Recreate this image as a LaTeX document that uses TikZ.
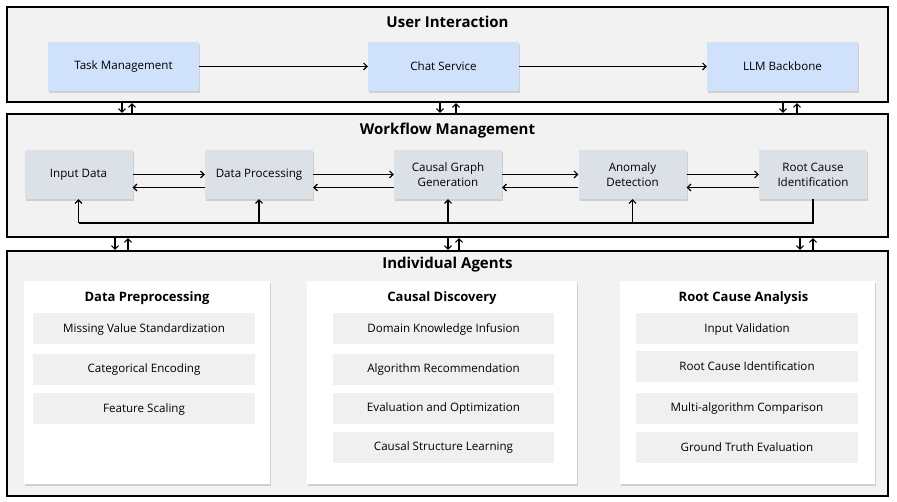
\documentclass[tikz,border=0pt]{standalone}
\usepackage{fontspec}
\setmainfont{Open Sans}
\usetikzlibrary{shadows,arrows.meta}
\definecolor{layerbg}{HTML}{F2F2F2}
\definecolor{uiblue}{HTML}{D0E2FB}
\definecolor{wfgray}{HTML}{DCE1E8}
\definecolor{itemgray}{HTML}{F0F0F0}
\begin{document}
\begin{tikzpicture}[x=1pt,y=-1pt,
    font=\fontsize{11.6}{15}\selectfont,
    >={Straight Barb[length=3.5pt,width=7pt]},
    soft/.style={drop shadow={shadow xshift=1pt,shadow yshift=-2pt,opacity=0.3}},
    layer/.style={draw,line width=2.2pt,fill=layerbg,minimum width=881pt},
    layertitle/.style={anchor=base,font=\fontsize{15}{19}\selectfont\bfseries},
    uibox/.style={soft,fill=uiblue,minimum width=151pt,minimum height=49pt},
    wfbox/.style={soft,fill=wfgray,minimum width=108pt,minimum height=49pt,align=center},
    panel/.style={soft,fill=white,minimum height=203pt},
    paneltitle/.style={anchor=base,font=\fontsize{13}{17}\selectfont\bfseries},
    item/.style={fill=itemgray,minimum width=222pt,minimum height=31pt},
    link/.style={->,line width=1.1pt}]
  \useasboundingbox (0,0) rectangle (897,502);
  % layers
  \node[layer,minimum height=95pt] (ui) at (447.5,54.5) {};
  \node[layertitle] (uititle) at (447.5,28) {User Interaction};
  \node[layer,minimum height=123pt] (wm) at (447.5,175.5) {};
  \node[layertitle] (wmtitle) at (447.5,135) {Workflow Management};
  \node[layer,minimum height=245pt] (ia) at (447.5,373.5) {};
  \node[layertitle] (iatitle) at (447.5,269) {Individual Agents};
  % user interaction
  \node[uibox] (task) at (123.5,66.5) {Task Management};
  \node[uibox] (chat) at (443.5,66.5) {Chat Service};
  \node[uibox] (llm) at (782.5,66.5) {LLM Backbone};
  \draw[link] (task) -- (chat);
  \draw[link] (chat) -- (llm);
  \foreach \x in {122,440,783} \draw[link] (ui.south -| \x,0) -- (wm.north -| \x,0);
  \foreach \x in {132,456,797} \draw[link] (wm.north -| \x,0) -- (ui.south -| \x,0);
  % workflow management
  \node[wfbox] (inp) at (78.5,174.5) {Input Data};
  \node[wfbox] (proc) at (259,174.5) {Data Processing};
  \node[wfbox] (cgg) at (448,174.5) {Causal Graph\\Generation};
  \node[wfbox] (anom) at (632.5,174.5) {Anomaly\\Detection};
  \node[wfbox] (rci) at (813,174.5) {Root Cause\\Identification};
  \foreach \a/\b in {inp/proc,proc/cgg,cgg/anom,anom/rci} {
    \draw[link] (\a) -- (\b);
    \draw[link] ([yshift=-13pt]\b.west) -- ([yshift=-13pt]\a.east);
  }
  \coordinate (bus) at (0,223);
  \draw[line width=1.1pt] (rci.south) -- (rci.south |- bus) -- (inp.south |- bus);
  \foreach \n in {inp,proc,cgg,anom} \draw[link] (\n.south |- bus) -- (\n.south);
  \foreach \x in {115,448,800} \draw[link] (wm.south -| \x,0) -- (ia.north -| \x,0);
  \foreach \x in {128,459,813} \draw[link] (ia.north -| \x,0) -- (wm.south -| \x,0);
  % individual agents
  \begin{scope}[xshift=147pt]
    \node[panel,minimum width=246pt] (dp) at (0,382.5) {};
    \node[paneltitle] (dptitle) at (0,302) {Data Preprocessing};
    \node[item] (dp1) at (-3,329) {Missing Value Standardization};
    \node[item] (dp2) at (-3,369.5) {Categorical Encoding};
    \node[item] (dp3) at (-3,409) {Feature Scaling};
  \end{scope}
  \begin{scope}[xshift=442pt]
    \node[panel,minimum width=270pt] (cd) at (0,382.5) {};
    \node[paneltitle] (cdtitle) at (0,302) {Causal Discovery};
    \node[item,minimum width=221pt] (cd1) at (1.5,329) {Domain Knowledge Infusion};
    \node[item,minimum width=221pt] (cd2) at (1.5,369.5) {Algorithm Recommendation};
    \node[item,minimum width=221pt] (cd3) at (1.5,408.5) {Evaluation and Optimization};
    \node[item,minimum width=221pt] (cd4) at (1.5,447.5) {Causal Structure Learning};
  \end{scope}
  \begin{scope}[xshift=747.5pt]
    \node[panel,minimum width=255pt] (rca) at (0,382.5) {};
    \node[paneltitle] (rcatitle) at (-4,302) {Root Cause Analysis};
    \node[item] (rca1) at (-0.5,329) {Input Validation};
    \node[item] (rca2) at (-0.5,366.5) {Root Cause Identification};
    \node[item] (rca3) at (-0.5,408.5) {Multi-algorithm Comparison};
    \node[item] (rca4) at (-0.5,447.5) {Ground Truth Evaluation};
  \end{scope}
\end{tikzpicture}
\end{document}
